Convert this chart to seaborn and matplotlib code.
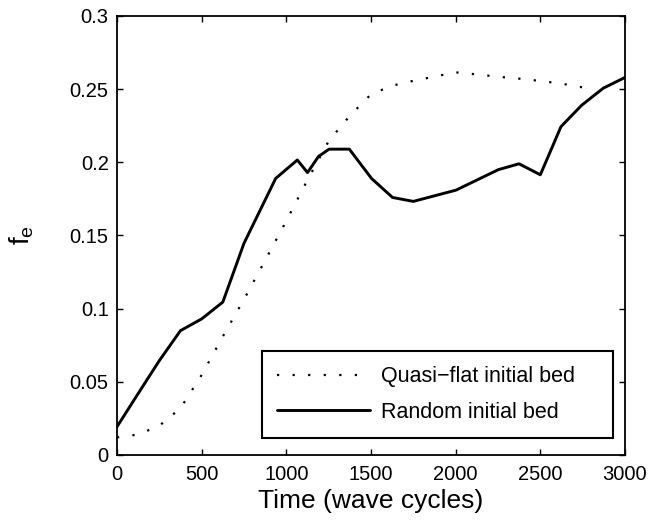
import matplotlib
matplotlib.use("Agg")
import matplotlib.pyplot as plt
import seaborn as sns
import pandas as pd

sns.set_style("ticks")
plt.rcParams['font.family'] = ['Liberation Sans', 'DejaVu Sans']
plt.rcParams['text.color'] = 'black'
plt.rcParams['axes.labelcolor'] = 'black'

# Quasi-flat initial bed
t_flat = [0, 125, 250, 375, 500, 625, 750, 875, 1000, 1125, 1250, 1375, 1500,
          1625, 1750, 1875, 2000, 2125, 2250, 2375, 2500, 2625, 2750]
f_flat = [0.012, 0.014, 0.020, 0.032, 0.0547, 0.081, 0.1064, 0.133, 0.160, 0.188,
          0.2145, 0.2318, 0.2465, 0.2524, 0.2557, 0.2586, 0.2615, 0.2601, 0.2585,
          0.2572, 0.2556, 0.2538, 0.2512]

# Random initial bed
t_rand = [0, 125, 250, 375, 500, 625, 750, 937, 1065, 1125, 1190, 1252, 1372,
          1503, 1627, 1750, 2002, 2252, 2374, 2500, 2622, 2744, 2872, 3000]
f_rand = [0.0193, 0.042, 0.0645, 0.085, 0.093, 0.1045, 0.1447, 0.189, 0.2016,
          0.193, 0.204, 0.209, 0.209, 0.189, 0.176, 0.1733, 0.181, 0.195, 0.199,
          0.1915, 0.2244, 0.239, 0.2507, 0.258]

labels = ["Quasi\u2212flat initial bed", "Random initial bed"]
xticks = [0, 500, 1000, 1500, 2000, 2500, 3000]
yticks = [0, 0.05, 0.1, 0.15, 0.2, 0.25, 0.3]
yticklabels = ["0", "0.05", "0.1", "0.15", "0.2", "0.25", "0.3"]

df_flat = pd.DataFrame({"t": t_flat, "f": f_flat})
df_rand = pd.DataFrame({"t": t_rand, "f": f_rand})

fig = plt.figure(figsize=(6.7, 5.2), dpi=100)
ax = fig.add_axes([117/670, 1 - 455/520, (625 - 117)/670, (455 - 16)/520])

sns.lineplot(data=df_flat, x="t", y="f", ax=ax, color="black", linewidth=1.6,
             linestyle=(0, (1, 6)), label=labels[0], sort=False)
sns.lineplot(data=df_rand, x="t", y="f", ax=ax, color="black", linewidth=2.1,
             label=labels[1], sort=False)

ax.set_xlim(0, 3000)
ax.set_ylim(0, 0.3)
ax.set_xticks(xticks)
ax.set_xticklabels([str(v) for v in xticks])
ax.set_yticks(yticks)
ax.set_yticklabels(yticklabels)
ax.tick_params(direction="in", length=4.5, width=1.0, labelsize=14.5,
               top=True, right=True, colors="black", labelcolor="black")
ax.tick_params(axis="y", pad=6)
ax.tick_params(axis="x", pad=7)
for s in ax.spines.values():
    s.set_visible(True)
    s.set_linewidth(1.3)
    s.set_color("black")

ax.set_xlabel("Time (wave cycles)", fontsize=19, labelpad=4, color="black")
ax.set_ylabel("f$_\\mathregular{e}$", fontsize=20, color="black")
ax.yaxis.set_label_coords(-0.16, 0.5)

leg = ax.legend(loc="lower left",
                bbox_to_anchor=(262/670, 1 - 438/520, (613 - 262)/670, (438 - 352)/520),
                mode="expand",
                bbox_transform=fig.transFigure, fontsize=15.5, frameon=True,
                fancybox=False, edgecolor="black", framealpha=1,
                handlelength=4.3, handletextpad=0.55, borderpad=0.7,
                labelspacing=0.68, borderaxespad=0)
leg.get_frame().set_linewidth(1.5)
for txt in leg.get_texts():
    txt.set_color("black")

fig.savefig("out.png", dpi=100)
